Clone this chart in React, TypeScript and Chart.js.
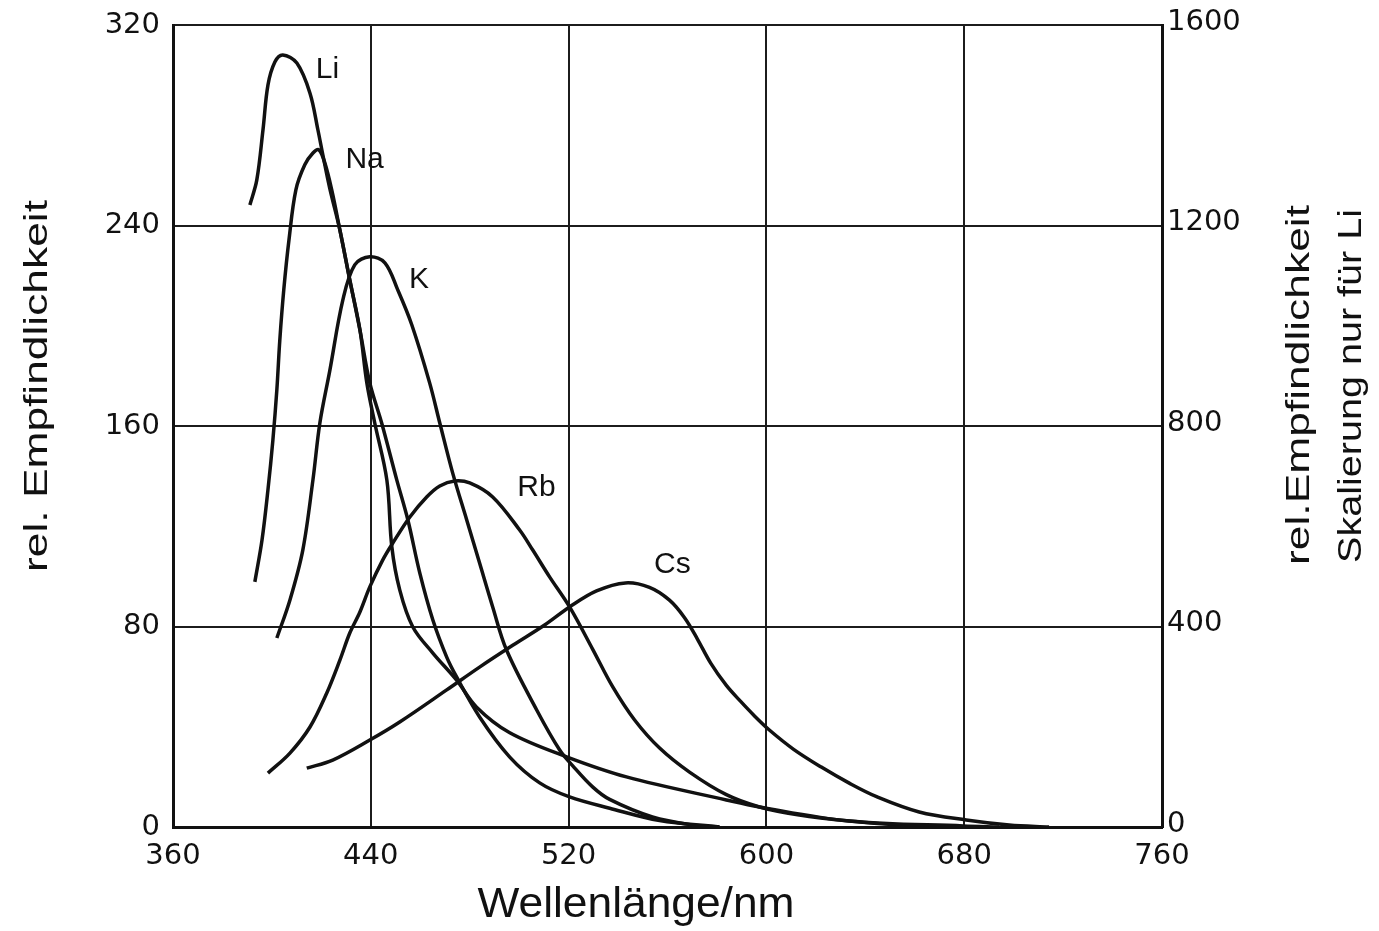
import React, { useEffect, useRef } from "react";
import { Chart, registerables } from "chart.js";

Chart.register(...registerables);

// Wavelength (nm) and relative sensitivity
const liWavelength = [391.1, 393.9, 396.4, 398.4, 401.2, 404.4, 410.1, 415.4, 418.6, 420.6, 423.4, 427.5, 431.5, 435.6, 438.4, 441.6, 446.5, 448.5, 451.7, 457.0, 465.1, 474.7, 482.8, 496.2, 519.2, 543.4, 583.8, 597.2, 633.5, 679.6, 694.1];
// Li is plotted against the right axis (0..1600)
const liValues = [1241, 1291, 1391, 1480, 1526, 1540, 1524, 1464, 1391, 1341, 1274, 1191, 1091, 992, 886, 806, 692, 559, 473, 399, 347, 293, 239, 188, 140, 100, 54, 40, 12, 2, 0];

const naWavelength = [393.1, 396.0, 398.4, 400.4, 402.0, 403.2, 404.8, 406.9, 409.7, 413.3, 416.6, 419.0, 421.4, 424.2, 427.5, 431.5, 435.6, 439.6, 444.4, 450.5, 455.0, 459.8, 465.1, 470.7, 474.7, 484.0, 496.2, 508.3, 520.4, 536.6, 556.8, 581.0];
const naValues = [97.8, 114.5, 134.5, 154.4, 174.4, 194.3, 214.3, 234.2, 254.2, 264.2, 268.9, 270.2, 265.0, 254.2, 238.2, 218.3, 198.3, 177.2, 161.2, 138.5, 122.5, 101.4, 82.6, 67.8, 59.9, 43.9, 27.9, 17.6, 12.0, 7.5, 2.6, 0];

const kWavelength = [402.0, 407.3, 412.5, 416.6, 419.4, 423.4, 428.7, 433.5, 439.6, 445.7, 450.9, 456.6, 463.8, 467.9, 473.1, 478.8, 484.0, 489.3, 494.9, 507.1, 516.4, 521.6, 529.7, 536.6, 553.9, 570.1, 581.0];
const kValues = [75.4, 90.6, 110.5, 138.5, 161.2, 182.0, 210.3, 224.3, 227.5, 225.1, 214.3, 200.3, 177.2, 161.2, 141.3, 122.5, 105.3, 87.8, 70.6, 46.7, 30.7, 24.5, 16.0, 11.0, 4.0, 0.8, 0];

const rbWavelength = [398.4, 407.3, 415.4, 422.2, 427.5, 431.5, 435.6, 439.6, 444.8, 448.9, 455.8, 462.6, 467.9, 473.9, 480.0, 489.3, 500.2, 505.5, 512.3, 520.4, 529.7, 537.8, 546.7, 556.8, 568.9, 583.8, 597.2, 613.3, 633.5, 653.7, 673.9];
const rbValues = [21.5, 29.5, 39.9, 53.5, 66.6, 77.4, 85.8, 95.8, 106.5, 113.3, 123.7, 131.7, 136.1, 138.1, 137.3, 131.7, 118.5, 110.5, 99.8, 87.8, 71.0, 56.0, 42.7, 31.5, 21.9, 12.9, 8.0, 4.8, 2.4, 0.8, 0];

const csWavelength = [414.1, 424.6, 439.6, 451.7, 470.7, 484.0, 497.4, 510.3, 520.4, 531.3, 543.0, 552.7, 560.8, 566.9, 572.1, 577.4, 583.8, 589.5, 595.0, 601.2, 611.0, 622.2, 633.5, 644.8, 661.8, 680.8, 698.2, 714.3];
const csValues = [23.5, 26.7, 34.7, 41.9, 54.7, 63.8, 72.5, 80.6, 87.8, 94.2, 97.4, 95.6, 90.5, 83.5, 75.0, 65.5, 56.5, 50.2, 44.5, 38.7, 31.0, 23.9, 17.5, 12.0, 6.0, 2.8, 0.8, 0];

// Curve labels: name, wavelength, left-axis value
const curveLabels = ["Li", "Na", "K", "Rb", "Cs"];
const curveLabelX = [422.5, 437.5, 459.5, 507.0, 562.0];
const curveLabelY = [302.1, 266.2, 218.3, 135.3, 104.5];

const xTicksStep = 80;
const leftTickStep = 80;
const rightTickStep = 400;

function pts(xs: number[], ys: number[]) {
  return xs.map((x, i) => ({ x, y: ys[i] }));
}

function fitText(
  ctx: CanvasRenderingContext2D,
  text: string,
  cx: number,
  cy: number,
  rot: number,
  fontPx: number,
  targetLen: number
) {
  ctx.save();
  ctx.font = `${fontPx}px "Liberation Sans", Arial, sans-serif`;
  const w = ctx.measureText(text).width;
  ctx.translate(cx, cy);
  ctx.rotate(rot);
  ctx.scale(targetLen / w, 1);
  ctx.textAlign = "center";
  ctx.textBaseline = "middle";
  ctx.fillStyle = "#111";
  ctx.fillText(text, 0, 0);
  ctx.restore();
}

const textPlugin = {
  id: "textPlugin",
  afterDraw(chart: any) {
    const ctx: CanvasRenderingContext2D = chart.ctx;
    const xs = chart.scales.x;
    const ys = chart.scales.y;
    ctx.save();
    ctx.font = `30px "Liberation Sans", Arial, sans-serif`;
    ctx.fillStyle = "#111";
    ctx.textAlign = "center";
    ctx.textBaseline = "middle";
    curveLabels.forEach((t, i) => {
      ctx.fillText(t, xs.getPixelForValue(curveLabelX[i]), ys.getPixelForValue(curveLabelY[i]));
    });
    ctx.restore();
    fitText(ctx, "rel. Empfindlichkeit", 38, 386, -Math.PI / 2, 34, 372);
    fitText(ctx, "rel.Empfindlichkeit", 1300, 385, -Math.PI / 2, 34, 360);
    fitText(ctx, "Skalierung nur für Li", 1352, 386, -Math.PI / 2, 34, 354);
    fitText(ctx, "Wellenlänge/nm", 636, 905, 0, 42, 317);
  },
};

export default function App() {
  const ref = useRef<HTMLCanvasElement | null>(null);
  useEffect(() => {
    if (!ref.current) return;
    const tickFont = { family: '"DejaVu Sans", sans-serif', size: 29 };
    const lineStyle = {
      borderColor: "#111",
      borderWidth: 3.5,
      pointRadius: 0,
      fill: false,
      tension: 0.35,
    };
    const vFit = (w: number) => (s: any) => {
      s.width = w;
      s.paddingTop = 0;
      s.paddingBottom = 0;
    };
    const chart = new Chart(ref.current, {
      type: "line",
      data: {
        datasets: [
          { label: "Li", data: pts(liWavelength, liValues), yAxisID: "y2", ...lineStyle },
          { label: "Na", data: pts(naWavelength, naValues), yAxisID: "y", ...lineStyle },
          { label: "K", data: pts(kWavelength, kValues), yAxisID: "y", ...lineStyle },
          { label: "Rb", data: pts(rbWavelength, rbValues), yAxisID: "y", ...lineStyle },
          { label: "Cs", data: pts(csWavelength, csValues), yAxisID: "y", ...lineStyle },
        ],
      },
      options: {
        animation: false,
        responsive: false,
        layout: { padding: { top: 25, left: 0, right: 0, bottom: 0 } },
        plugins: { legend: { display: false }, tooltip: { enabled: false } },
        scales: {
          x: {
            type: "linear",
            position: "bottom",
            min: 360,
            max: 760,
            ticks: { stepSize: xTicksStep, font: tickFont, color: "#111", padding: 12, maxRotation: 0 },
            grid: { color: "#1c1c1c", lineWidth: 2, drawTicks: false },
            border: { display: true, color: "#111", width: 3 },
            afterFit: (s: any) => {
              s.height = 104;
              s.paddingLeft = 0;
              s.paddingRight = 0;
            },
          },
          y: {
            type: "linear",
            position: "left",
            min: 0,
            max: 320,
            ticks: { stepSize: leftTickStep, font: tickFont, color: "#111", padding: 13 },
            grid: { color: "#1c1c1c", lineWidth: 2, drawTicks: false },
            border: { display: true, color: "#111", width: 3 },
            afterFit: vFit(173),
          },
          y2: {
            type: "linear",
            position: "right",
            min: 0,
            max: 1600,
            ticks: {
              stepSize: rightTickStep,
              font: tickFont,
              color: "#111",
              padding: 5,
              labelOffset: -3,
              callback: (v: any) => String(v),
            },
            grid: { display: false, drawTicks: false },
            border: { display: true, color: "#111", width: 3 },
            afterFit: vFit(217),
          },
        },
      },
      plugins: [textPlugin],
    });
    return () => chart.destroy();
  }, []);
  return (
    <div style={{ position: "absolute", left: 0, top: 0, width: 1379, height: 931, background: "#fff" }}>
      <canvas ref={ref} width={1379} height={931} />
    </div>
  );
}
